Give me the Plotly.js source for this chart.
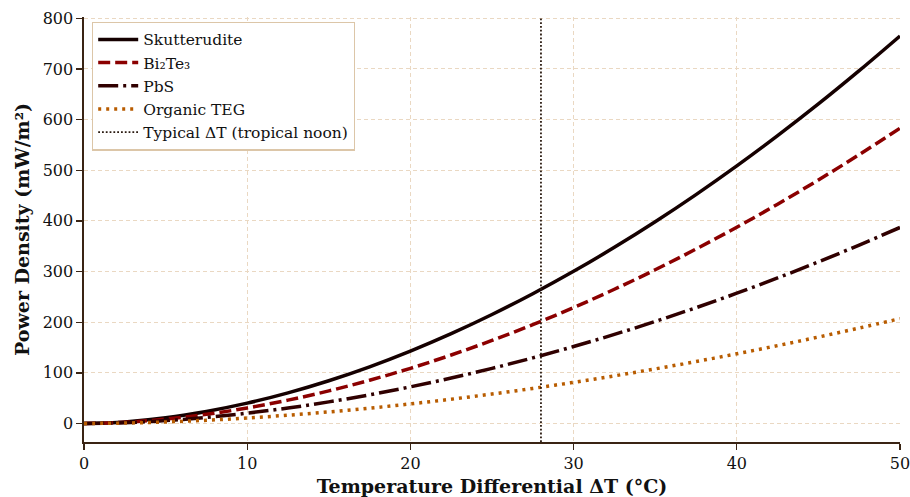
<!DOCTYPE html>
<html>
<head>
<meta charset="utf-8">
<script src="https://cdn.plot.ly/plotly-3.0.1.min.js"></script>
<style>html,body{margin:0;padding:0;background:#fff;}#chart{width:910px;height:497px;}</style>
</head>
<body>
<div id="chart"></div>
<script>
// Temperature differential ΔT (°C)
const deltaT = [0, 2.5, 5, 7.5, 10, 12.5, 15, 17.5, 20, 22.5, 25, 27.5, 30, 32.5, 35, 37.5, 40, 42.5, 45, 47.5, 50];
// Power density (mW/m²)
const skutterudite = [0, 3.2, 11.3, 23.8, 40.2, 60.5, 84.5, 112, 143, 177.4, 215.2, 256.2, 300.4, 347.8, 398.3, 451.9, 508.5, 568.2, 630.8, 696.5, 765];
const bi2te3 = [0, 2.4, 8.6, 18.1, 30.7, 46.1, 64.4, 85.4, 109, 135.2, 164, 195.2, 228.9, 265, 303.5, 344.4, 387.5, 433, 480.8, 530.8, 583];
const pbs = [0, 1.6, 5.7, 12, 20.4, 30.6, 42.7, 56.7, 72.4, 89.8, 108.9, 129.6, 152, 175.9, 201.5, 228.6, 257.2, 287.4, 319.1, 352.3, 387];
const organicTEG = [0, 0.9, 3.1, 6.4, 10.9, 16.4, 22.9, 30.3, 38.7, 48, 58.2, 69.3, 81.3, 94.1, 107.8, 122.3, 137.6, 153.8, 170.7, 188.5, 207];
const typicalDT = 28;
const seriesNames = ["Skutterudite", "Bi₂Te₃", "PbS", "Organic TEG", "Typical ΔT (tropical noon)"];
const xTicks = [0, 10, 20, 30, 40, 50];
const yTicks = [0, 100, 200, 300, 400, 500, 600, 700, 800];

const yRange = [-36.5, 802.5];
const serif = "DejaVu Serif";

const traces = [
  {x: deltaT, y: skutterudite, name: seriesNames[0], mode: "lines",
   line: {color: "#150000", width: 3.5, shape: "spline"}},
  {x: deltaT, y: bi2te3, name: seriesNames[1], mode: "lines",
   line: {color: "#8b0000", width: 3.5, dash: "12px,5px", shape: "spline"}},
  {x: deltaT, y: pbs, name: seriesNames[2], mode: "lines",
   line: {color: "#300000", width: 3.5, dash: "20px,5px,3px,5px", shape: "spline"}},
  {x: deltaT, y: organicTEG, name: seriesNames[3], mode: "lines",
   line: {color: "#b85c00", width: 3.5, dash: "3px,5px", shape: "spline"}},
  {x: [typicalDT, typicalDT], y: yRange, name: seriesNames[4], mode: "lines",
   line: {color: "#2a1a10", width: 1.8, dash: "1.8px,2px"}}
];

const layout = {
  width: 910, height: 497,
  margin: {l: 84, r: 10, t: 17, b: 55},
  paper_bgcolor: "#ffffff", plot_bgcolor: "#ffffff",
  font: {family: serif, color: "#1a1a1a"},
  showlegend: true,
  legend: {
    x: 0.0098, y: 0.989, xanchor: "left", yanchor: "top",
    bgcolor: "#ffffff", bordercolor: "#dcc6a8", borderwidth: 1.2,
    font: {family: serif, size: 15.5, color: "#111"},
    tracegroupgap: 0, itemwidth: 40
  },
  xaxis: {
    range: [0, 50], tickvals: xTicks, ticktext: xTicks.map(String),
    ticklabeloverflow: "allow",
    showgrid: true, gridcolor: "#ead8c2", griddash: "4px,3px", gridwidth: 1,
    zeroline: false, showline: true, linecolor: "#3a2414", linewidth: 1.6,
    ticks: "outside", ticklen: 6, tickwidth: 1.4, tickcolor: "#3a2414",
    tickfont: {family: serif, size: 16, color: "#111"},
    title: {text: "<b>Temperature Differential ΔT (°C)</b>", font: {family: serif, size: 19, color: "#111"}, standoff: 8}
  },
  yaxis: {
    range: yRange, tickvals: yTicks, ticktext: yTicks.map(String),
    showgrid: true, gridcolor: "#ead8c2", griddash: "4px,3px", gridwidth: 1,
    zeroline: false, showline: true, linecolor: "#3a2414", linewidth: 1.6,
    ticks: "outside", ticklen: 6, tickwidth: 1.4, tickcolor: "#3a2414",
    tickfont: {family: serif, size: 16, color: "#111"},
    title: {text: "<b>Power Density (mW/m²)</b>", font: {family: serif, size: 19, color: "#111"}, standoff: 8}
  }
};

Plotly.newPlot("chart", traces, layout, {displayModeBar: false, staticPlot: true});
</script>
</body>
</html>
